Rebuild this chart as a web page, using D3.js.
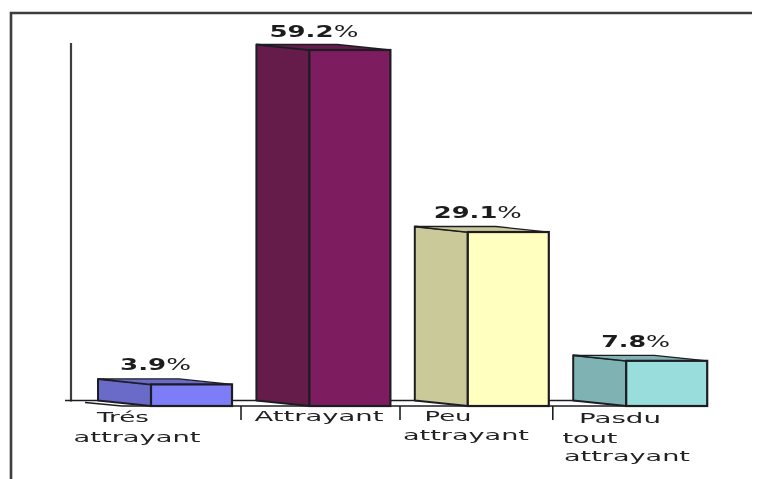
<!DOCTYPE html>
<html><head><meta charset="utf-8">
<script src="https://cdn.jsdelivr.net/npm/d3@7"></script>
<style>html,body{margin:0;background:#fff}svg{display:block}</style></head>
<body><div id="c"></div>
<script>
const categories = ["Trés attrayant","Attrayant","Peu attrayant","Pasdu tout attrayant"];
const values = [3.9,59.2,29.1,7.8];
const valueLabels = ["3.9","59.2","29.1","7.8"];
const frontColors = ["#7d7df8","#7e1f60","#ffffc0","#99dddd"];
const sideColors = ["#6a6ac8","#651a4c","#c9c99a","#7fb3b3"];
const labelLines = [["Trés","attrayant"],["Attrayant"],["Peu","attrayant"],["Pasdu","tout","attrayant"]];

const W=762,H=479, depthX=53, depthY=5.5, barW=81, baseY=406, topY=50;
const svg=d3.select("#c").append("svg").attr("width",W).attr("height",H);
const defs=svg.append("defs");
defs.append("filter").attr("id","soft").append("feGaussianBlur").attr("stdDeviation",0.45);
const root=svg.append("g").attr("filter","url(#soft)");
const x=d3.scaleBand().domain(categories).range([151,151+158.4*4]).paddingInner(0).paddingOuter(0);
const y=d3.scaleLinear().domain([0,59.2]).range([408,topY]);
const ink="#1e1e24";

// frame
root.append("path").attr("d",`M11,${H} V13 H752`).attr("fill","none").attr("stroke","#3c3c3c").attr("stroke-width",2.6);
// y axis wall
root.append("line").attr("x1",71).attr("x2",71).attr("y1",43).attr("y2",baseY-depthY+1).attr("stroke","#3c3c3c").attr("stroke-width",2.2);
// floor
root.append("path").attr("d",`M65,${baseY-depthY} H700 M85,${baseY-depthY+2} L122,${baseY} M122,${baseY} H708`).attr("fill","none").attr("stroke",ink).attr("stroke-width",1.6);

const bars=root.selectAll("g.bar").data(categories).join("g").attr("class","bar");
bars.append("path").attr("fill",(d,i)=>sideColors[i]).attr("stroke",ink).attr("stroke-width",2).attr("stroke-linejoin","round")
  .attr("d",(d,i)=>{const l=x(d),t=y(values[i]);return `M${l-depthX},${t-depthY} L${l},${t} V${baseY} L${l-depthX},${baseY-depthY} Z`;});
bars.append("path").attr("fill",(d,i)=>sideColors[i]).attr("stroke",ink).attr("stroke-width",1.3)
  .attr("d",(d,i)=>{const l=x(d),t=y(values[i]);return `M${l-depthX},${t-depthY} H${l+barW-depthX} L${l+barW},${t} H${l} Z`;});
bars.append("rect").attr("x",d=>x(d)).attr("width",barW).attr("y",(d,i)=>y(values[i])).attr("height",(d,i)=>baseY-y(values[i]))
  .attr("fill",(d,i)=>frontColors[i]).attr("stroke",ink).attr("stroke-width",2.2);

// ticks between categories
const tickNudge=[0,0.6,-5];
root.selectAll("line.tick").data(categories.slice(0,3)).join("line").attr("class","tick")
  .attr("x1",(d,i)=>x(d)+90+tickNudge[i]).attr("x2",(d,i)=>x(d)+90+tickNudge[i]).attr("y1",baseY).attr("y2",420).attr("stroke",ink).attr("stroke-width",1.6);

// value labels
const valX=[-31,-40,-34,-25], valY=[-14,-13,-14,-14], valLen=[71,89,88,69];
bars.append("text").attr("x",(d,i)=>x(d)+valX[i]).attr("y",(d,i)=>y(values[i])+valY[i])
  .attr("textLength",(d,i)=>valLen[i]).attr("lengthAdjust","spacingAndGlyphs")
  .attr("font-family","DejaVu Sans").attr("font-size",15.5).attr("fill","#1c1c1c")
  .each(function(d,i){const t=d3.select(this);
    t.append("tspan").attr("font-weight","bold").text(valueLabels[i]);
    t.append("tspan").attr("font-weight","normal").text("%");});

// category labels
const lineX=[[123,137],[319],[448,466],[620,590,627]], lineY=[[422,442],[421],[421,440],[423,443,461]], lineW=[[52,127],[129],[47,126],[82,55,126]];
bars.each(function(d,i){
  d3.select(this).selectAll("text.cat").data(labelLines[i]).join("text").attr("class","cat")
    .attr("x",(s,j)=>lineX[i][j]).attr("y",(s,j)=>lineY[i][j]).attr("text-anchor","middle")
    .attr("textLength",(s,j)=>lineW[i][j]).attr("lengthAdjust","spacingAndGlyphs")
    .attr("font-family","DejaVu Sans").attr("font-size",14).attr("fill","#222").text(s=>s);
});
</script></body></html>
